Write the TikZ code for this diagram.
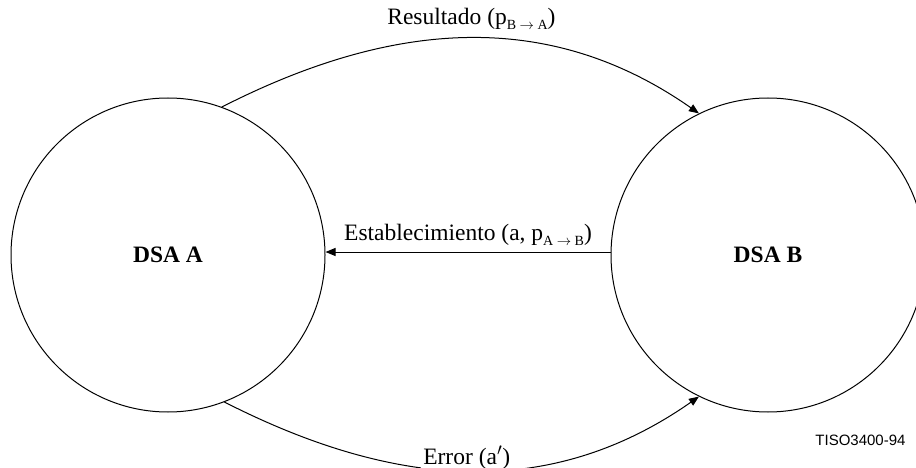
\documentclass[tikz,border=0pt]{standalone}
\usepackage{fontspec}
\setmainfont{Liberation Serif}
\newfontfamily\tagfont{Liberation Sans}
\usetikzlibrary{arrows.meta, positioning}
\newcommand{\subarrow}[2]{\raisebox{-0.22em}{\fontsize{14}{14}\selectfont #1\ $\rightarrow$\ #2}}

\begin{document}
\begin{tikzpicture}[
    x=1pt, y=1pt,
    node distance=285pt,
    dsa/.style={circle, draw, line width=1pt, minimum size=314pt, inner sep=0pt, font=\fontsize{23.5}{28}\selectfont\bfseries},
    arrow/.style={-{Triangle[length=10pt,width=8pt]}, line width=1pt},
    lbl/.style={font=\fontsize{23.5}{28}\selectfont, inner sep=2pt}
]
\clip (0,0) rectangle (916,-468);
% DSA nodes
\node[dsa] (dsaA) at (168,-255) {DSA A};
\node[dsa, right=of dsaA] (dsaB) {DSA B};

% Arrows
\draw[arrow] ([yshift=3pt]dsaB.west) -- node[lbl, above=4pt] {Establecimiento (a, p\subarrow{A}{B})} ([yshift=3pt]dsaA.east);
\draw[arrow] (dsaA.70) to[out=27, in=145] node[lbl, above=6pt, xshift=6pt] {Resultado (p\subarrow{B}{A})} (dsaB.116);
\draw[arrow] (dsaA.-69) to[out=-27, in=-145] node[lbl, fill=white, yshift=13pt] {Error (a$'$)} (dsaB.-116);

% Figure tag
\node[font=\tagfont\fontsize{15}{18}\selectfont, anchor=east] (tag) at (909,-440) {TISO3400-94};
\end{tikzpicture}
\end{document}
